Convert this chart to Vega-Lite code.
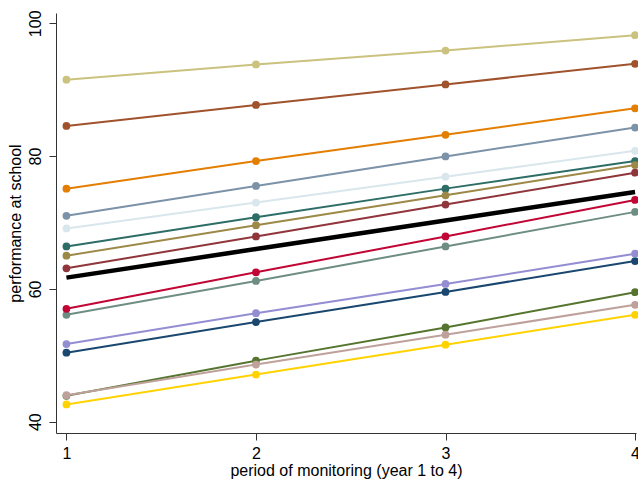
{
  "$schema": "https://vega.github.io/schema/vega-lite/v6.json",
  "width": 580,
  "height": 420,
  "autosize": {"type": "none"},
  "padding": {"left": 56, "top": 13, "right": 2, "bottom": 49},
  "background": "white",
  "config": {
    "view": {"stroke": null},
    "font": "Liberation Sans",
    "axis": {
      "grid": false,
      "domainColor": "#333333",
      "tickColor": "#333333",
      "labelColor": "#000000",
      "titleColor": "#000000",
      "labelFont": "Liberation Sans",
      "titleFont": "Liberation Sans",
      "labelFontSize": 16,
      "titleFontSize": 16,
      "titleFontWeight": "normal",
      "tickSize": 7
    }
  },
  "datasets": {
    "fits": [
      {"period": 1, "score": 61.7, "series": "fit"},
      {"period": 2, "score": 66.0, "series": "fit"},
      {"period": 3, "score": 70.3, "series": "fit"},
      {"period": 4, "score": 74.6, "series": "fit"}
    ]
  },
  "data": {
    "values": [
      {"series": "s01", "period": 1, "score": 50.4},
      {"series": "s01", "period": 2, "score": 55.0},
      {"series": "s01", "period": 3, "score": 59.55},
      {"series": "s01", "period": 4, "score": 64.2},
      {"series": "s02", "period": 1, "score": 63.1},
      {"series": "s02", "period": 2, "score": 67.9},
      {"series": "s02", "period": 3, "score": 72.7},
      {"series": "s02", "period": 4, "score": 77.5},
      {"series": "s03", "period": 1, "score": 43.9},
      {"series": "s03", "period": 2, "score": 49.2},
      {"series": "s03", "period": 3, "score": 54.2},
      {"series": "s03", "period": 4, "score": 59.5},
      {"series": "s04", "period": 1, "score": 75.1},
      {"series": "s04", "period": 2, "score": 79.25},
      {"series": "s04", "period": 3, "score": 83.2},
      {"series": "s04", "period": 4, "score": 87.2},
      {"series": "s05", "period": 1, "score": 56.1},
      {"series": "s05", "period": 2, "score": 61.2},
      {"series": "s05", "period": 3, "score": 66.4},
      {"series": "s05", "period": 4, "score": 71.6},
      {"series": "s06", "period": 1, "score": 57.0},
      {"series": "s06", "period": 2, "score": 62.5},
      {"series": "s06", "period": 3, "score": 67.9},
      {"series": "s06", "period": 4, "score": 73.4},
      {"series": "s07", "period": 1, "score": 51.7},
      {"series": "s07", "period": 2, "score": 56.35},
      {"series": "s07", "period": 3, "score": 60.75},
      {"series": "s07", "period": 4, "score": 65.3},
      {"series": "s08", "period": 1, "score": 91.5},
      {"series": "s08", "period": 2, "score": 93.8},
      {"series": "s08", "period": 3, "score": 95.9},
      {"series": "s08", "period": 4, "score": 98.2},
      {"series": "s09", "period": 1, "score": 84.55},
      {"series": "s09", "period": 2, "score": 87.7},
      {"series": "s09", "period": 3, "score": 90.8},
      {"series": "s09", "period": 4, "score": 93.9},
      {"series": "s10", "period": 1, "score": 71.0},
      {"series": "s10", "period": 2, "score": 75.5},
      {"series": "s10", "period": 3, "score": 79.95},
      {"series": "s10", "period": 4, "score": 84.3},
      {"series": "s11", "period": 1, "score": 66.4},
      {"series": "s11", "period": 2, "score": 70.8},
      {"series": "s11", "period": 3, "score": 75.1},
      {"series": "s11", "period": 4, "score": 79.25},
      {"series": "s12", "period": 1, "score": 65.0},
      {"series": "s12", "period": 2, "score": 69.6},
      {"series": "s12", "period": 3, "score": 74.1},
      {"series": "s12", "period": 4, "score": 78.65},
      {"series": "s13", "period": 1, "score": 44.0},
      {"series": "s13", "period": 2, "score": 48.6},
      {"series": "s13", "period": 3, "score": 53.1},
      {"series": "s13", "period": 4, "score": 57.6},
      {"series": "s14", "period": 1, "score": 42.6},
      {"series": "s14", "period": 2, "score": 47.1},
      {"series": "s14", "period": 3, "score": 51.6},
      {"series": "s14", "period": 4, "score": 56.1},
      {"series": "s15", "period": 1, "score": 69.1},
      {"series": "s15", "period": 2, "score": 73.0},
      {"series": "s15", "period": 3, "score": 76.9},
      {"series": "s15", "period": 4, "score": 80.8}
    ]
  },
  "encoding": {
    "x": {
      "field": "period",
      "type": "quantitative",
      "scale": {"domain": [0.945, 4.005], "nice": false, "zero": false},
      "axis": {"values": [1, 2, 3, 4], "format": "d", "title": "period of monitoring (year 1 to 4)", "labelPadding": 5, "titlePadding": 1, "labelFlush": false}
    },
    "y": {
      "field": "score",
      "type": "quantitative",
      "scale": {"domain": [38.3, 101.55], "nice": false, "zero": false},
      "axis": {"values": [40, 60, 80, 100], "title": "performance at school", "labelAngle": -90, "labelAlign": "center", "labelBaseline": "bottom", "labelPadding": 6, "titlePadding": 4, "labelFlush": false}
    },
    "color": {
      "field": "series",
      "type": "nominal",
      "legend": null,
      "scale": {
        "domain": ["s01", "s02", "s03", "s04", "s05", "s06", "s07", "s08", "s09", "s10", "s11", "s12", "s13", "s14", "s15"],
        "range": ["#1a476f", "#90353b", "#55752f", "#e37e00", "#6e8e84", "#c10534", "#938dd2", "#cac27e", "#a0522d", "#7b92a8", "#2d6d66", "#9c8847", "#bfa19c", "#ffd200", "#d9e6eb"]
      }
    }
  },
  "layer": [
    {"mark": {"type": "line", "strokeWidth": 2, "clip": false}},
    {"mark": {"type": "point", "filled": true, "opacity": 1, "size": 60, "clip": false}},
    {
      "data": {"name": "fits"},
      "mark": {"type": "line", "strokeWidth": 4.5, "color": "#000000", "clip": false},
      "encoding": {"color": {"value": "#000000"}}
    }
  ]
}
